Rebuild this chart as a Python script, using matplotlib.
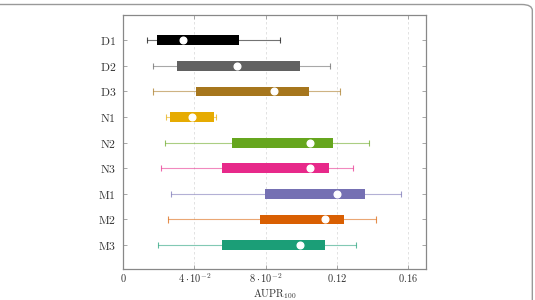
import matplotlib
matplotlib.use("Agg")
import matplotlib.pyplot as plt
from matplotlib.patches import FancyBboxPatch

plt.rcParams['mathtext.fontset'] = 'cm'
plt.rcParams['font.family'] = 'serif'
plt.rcParams['font.serif'] = ['DejaVu Serif']

labels = ['D1', 'D2', 'D3', 'N1', 'N2', 'N3', 'M1', 'M2', 'M3']
whisker_low = [0.0136, 0.0166, 0.0166, 0.0239, 0.0235, 0.0214, 0.0267, 0.0255, 0.0195]
box_low = [0.0190, 0.0304, 0.0412, 0.0265, 0.0613, 0.0557, 0.0798, 0.0770, 0.0557]
median = [0.0336, 0.0639, 0.0846, 0.0388, 0.1050, 0.1050, 0.1200, 0.1136, 0.0996]
box_high = [0.0650, 0.0992, 0.1043, 0.0512, 0.1176, 0.1157, 0.1357, 0.1243, 0.1136]
whisker_high = [0.0880, 0.1160, 0.1220, 0.0523, 0.1380, 0.1290, 0.1560, 0.1420, 0.1310]
colors = ['#000000', '#616161', '#A6761D', '#E6AB02', '#66A61E', '#E7298A',
          '#7570B3', '#D95F02', '#1B9E77']
xticks = [0, 0.04, 0.08, 0.12, 0.16]
xticklabels = [r'$0$', r'$4\cdot10^{-2}$', r'$8\cdot10^{-2}$', r'$0.12$', r'$0.16$']

fig = plt.figure(figsize=(5.35, 3.0), dpi=100)
ax = fig.add_axes([0.23, 0.103, 0.566, 0.848])

ypos = list(range(1, len(labels) + 1))
for y, wl, bl, md, bh, wh, c in zip(ypos, whisker_low, box_low, median, box_high, whisker_high, colors):
    ax.hlines(y, wl, wh, color=c, lw=0.8, alpha=0.55, zorder=2)
    ax.vlines([wl, wh], y - 0.12, y + 0.12, color=c, lw=0.8, alpha=0.7, zorder=2)
    ax.barh(y, bh - bl, left=bl, height=0.38, color=c, zorder=3)
    ax.plot([md], [y], marker='o', ms=4.8, color='white', mec='white', zorder=4)

ax.set_xlim(0, 0.17)
ax.set_ylim(9.94, 0.0)
ax.set_yticks(ypos)
ax.set_yticklabels([r'$\mathrm{%s}$' % l for l in labels], fontsize=8.5, color='#333333')
ax.set_xticks(xticks)
ax.set_xticklabels(xticklabels, fontsize=7.5, color='#333333')
ax.set_xlabel(r'$\mathrm{AUPR}_{100}$', fontsize=7.5, color='#333333')
ax.xaxis.set_label_coords(0.5, -0.07)
ax.grid(axis='x', linestyle=(0, (3, 3)), color='#dddddd', lw=0.6, zorder=0)
ax.tick_params(axis='both', direction='in', length=3, width=0.6, color='#999999',
               top=True, right=True)
ax.tick_params(axis='x', pad=2)
ax.tick_params(axis='y', pad=5)
for s in ax.spines.values():
    s.set_color('#888888')
    s.set_linewidth(0.9)

border = FancyBboxPatch((-0.02, -0.05), 1.015, 1.035, boxstyle='round,pad=0,rounding_size=0.02',
                        transform=fig.transFigure, fill=False, ec='#999999', lw=1.0)
fig.patches.append(border)

fig.savefig('out.png', dpi=100)
